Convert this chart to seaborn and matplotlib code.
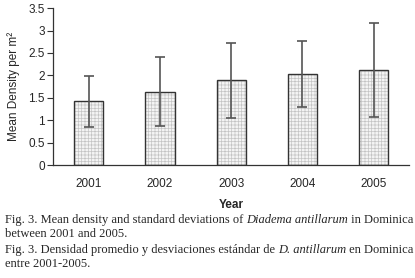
import numpy as np
import pandas as pd
import matplotlib
matplotlib.use("Agg")
import matplotlib.pyplot as plt
import seaborn as sns

# Data
years = ["2001", "2002", "2003", "2004", "2005"]
mean_density = [1.42, 1.64, 1.89, 2.03, 2.12]
std_dev = [0.57, 0.76, 0.83, 0.73, 1.05]

caption_en = ["Fig. 3. Mean density and standard deviations of ", "Diadema antillarum", " in Dominica"]
caption_en2 = "between 2001 and 2005."
caption_es = ["Fig. 3. Densidad promedio y desviaciones estándar de ", "D. antillarum", " en Dominica"]
caption_es2 = "entre 2001-2005."

sns.set_style("white")
plt.rcParams['font.family'] = ['Liberation Sans', 'DejaVu Sans']
plt.rcParams['hatch.linewidth'] = 0.5

df = pd.DataFrame({"year": years, "mean": mean_density, "sd": std_dev})

fig = plt.figure(figsize=(4.15, 2.78), dpi=100)
ax = fig.add_axes([0.128, 0.406, 0.858, 0.565])

# hatched light fill, then the dark outline on top
sns.barplot(data=df, x="year", y="mean", color="#f4f4f4", edgecolor="#c4c4c4",
            linewidth=0, width=0.41, hatch="+++++", errorbar=None, ax=ax)
sns.barplot(data=df, x="year", y="mean", fill=False, edgecolor="#333333",
            linewidth=1.0, width=0.41, errorbar=None, ax=ax)
ax.errorbar(np.arange(len(years)), df["mean"], yerr=df["sd"], fmt="none",
            ecolor="#555555", elinewidth=1.2, capsize=3.5, capthick=1.2)

ax.set_xlim(-0.5, 4.5)
ax.set_ylim(0, 3.5)
ax.set_yticks(np.arange(0, 3.6, 0.5))
ax.set_yticklabels(["0", "0.5", "1", "1.5", "2", "2.5", "3", "3.5"])
ax.set_xticks(np.arange(-0.5, 5, 1.0), minor=True)
ax.tick_params(axis="x", which="major", length=0, labelsize=8.5, pad=9)
ax.tick_params(axis="x", which="minor", length=4, width=0.8, direction="out", color="#333333")
ax.tick_params(axis="y", length=4, width=0.8, direction="out", labelsize=8.5, color="#333333", pad=2)
ax.tick_params(axis="both", bottom=True, left=True)
sns.despine(ax=ax)
for s in ["left", "bottom"]:
    ax.spines[s].set_color("#333333")
    ax.spines[s].set_linewidth(0.9)

ax.set_xlabel("Year", fontsize=8.5, fontweight="bold", labelpad=7)
ax.set_ylabel("Mean Density per m²", fontsize=8.5, labelpad=6)

# Caption, mixing roman and italic pieces
serif = ['Liberation Serif', 'DejaVu Serif']
fs = 9.0

def chain(parts, y):
    t = fig.text(0.012, y, parts[0], family=serif, fontsize=fs, va="bottom")
    for i, p in enumerate(parts[1:]):
        style = "italic" if i == 0 else "normal"
        t = ax.annotate(p, xy=(1, 0), xycoords=t, va="bottom", ha="left",
                        family=serif, fontsize=fs, style=style, annotation_clip=False)

chain(caption_en, 1 - 226 / 278)
fig.text(0.012, 1 - 240 / 278, caption_en2, family=serif, fontsize=fs, va="bottom")
chain(caption_es, 1 - 256 / 278)
fig.text(0.012, 1 - 270 / 278, caption_es2, family=serif, fontsize=fs, va="bottom")

fig.savefig("out.png", dpi=100)
